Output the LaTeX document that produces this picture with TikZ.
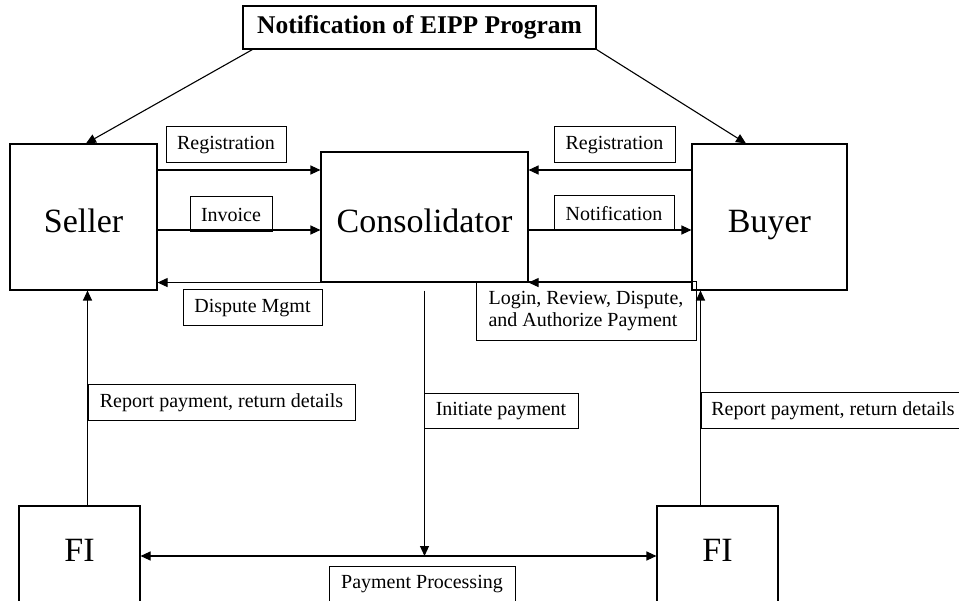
\documentclass[tikz,border=0pt]{standalone}
\usepackage{fontspec}
\setmainfont{Liberation Serif}
\usetikzlibrary{arrows.meta}

\begin{document}
\begin{tikzpicture}[x=1pt,y=-1pt,
  box/.style={draw,line width=1.1pt,inner sep=0pt,font=\fontsize{34}{40}\selectfont},
  tag/.style={draw,line width=1pt,inner sep=0pt,font=\fontsize{20}{22}\selectfont},
  arr/.style={line width=1.1pt,-{Triangle[length=10pt,width=9pt]}},
  dbl/.style={line width=1.1pt,{Triangle[length=10pt,width=9pt]}-{Triangle[length=10pt,width=9pt]}}
]
  \useasboundingbox (0,0) rectangle (959,601);

  \node[draw,line width=1.1pt,inner sep=0pt,minimum width=353pt,minimum height=43pt,
    font=\bfseries\fontsize{25.5}{30}\selectfont] (notif) at (419.5,27.5) {Notification of EIPP Program};

  \node[box,minimum width=147pt,minimum height=146pt,text height=36pt,text depth=4pt] (seller) at (83.5,217) {Seller};
  \node[box,minimum width=207pt,minimum height=130pt,text height=36pt,text depth=4pt] (cons) at (424.5,217) {Consolidator};
  \node[box,minimum width=155pt,minimum height=146pt,text height=36pt,text depth=4pt] (buyer) at (769.5,217) {Buyer};
  \node[box,minimum width=121pt,minimum height=100pt,text depth=12pt] (fiL) at (79.5,556) {FI};
  \node[box,minimum width=121pt,minimum height=100pt,text depth=12pt] (fiR) at (717.5,556) {FI};

  \node[tag,minimum width=120pt,minimum height=36pt] (regL) at (226,145) {Registration};
  \node[tag,minimum width=82pt,minimum height=35pt] (invL) at (231,214.5) {Invoice};
  \node[tag,minimum width=121pt,minimum height=36pt] (regR) at (614.5,145) {Registration};
  \node[tag,minimum width=120pt,minimum height=35pt] (notL) at (614,213.5) {Notification};
  \node[tag,minimum width=139pt,minimum height=36pt] (dispL) at (252.5,308) {Dispute Mgmt};
  \node[tag,minimum width=220pt,minimum height=59pt,align=left] (loginL) at (586,311.5)
    {Login, Review, Dispute,\\and Authorize Payment};
  \node[tag,minimum width=267pt,minimum height=36pt] (repL) at (221.5,403) {Report payment, return details};
  \node[tag,minimum width=264pt,minimum height=36pt] (repR) at (833,411) {Report payment, return details};
  \node[tag,minimum width=154pt,minimum height=35pt] (initL) at (501,411.5) {Initiate payment};
  \node[tag,minimum width=186pt,minimum height=36pt] (payL) at (422,584) {Payment Processing};

  \draw[arr] ([xshift=10pt]notif.south west) -- ([xshift=2.5pt]seller.north);
  \draw[arr] (notif.south east) -- ([xshift=-23.5pt]buyer.north);

  \draw[arr] ([yshift=47pt]seller.east) -- ([yshift=47pt]cons.west);
  \draw[arr] ([yshift=-13pt]seller.east) -- ([yshift=-13pt]cons.west);
  \draw[arr] ([yshift=47pt]buyer.west) -- ([yshift=47pt]cons.east);
  \draw[arr] ([yshift=-13pt]cons.east) -- ([yshift=-13pt]buyer.west);
  \draw[arr] (cons.south west) -- (seller.east |- cons.south west);
  \draw[arr] (buyer.west |- cons.south east) -- (cons.south east);

  \draw[arr] (fiL.north -| repL.west) -- (seller.south -| repL.west);
  \draw[arr] (fiR.north -| repR.west) -- (buyer.south -| repR.west);

  \coordinate (pay) at ([yshift=-8pt]cons.south);
  \draw[arr] (pay) -- (pay |- fiL.east);
  \draw[dbl] (fiL.east) -- (fiR.west);
\end{tikzpicture}
\end{document}
